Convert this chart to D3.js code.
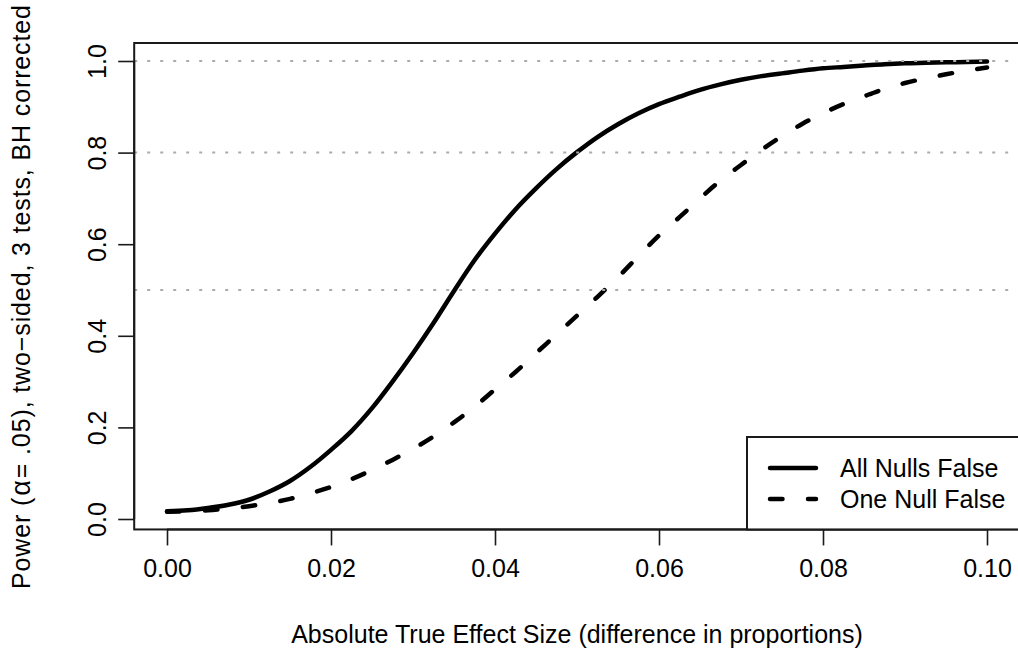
<!DOCTYPE html>
<html>
<head>
<meta charset="utf-8">
<script src="https://cdn.jsdelivr.net/npm/d3@7"></script>
<style>
  html, body { margin: 0; padding: 0; background: #fff; }
  svg { display: block; font-family: "Liberation Sans", Arial, Helvetica, sans-serif; }
</style>
</head>
<body>
<svg id="chart" width="1018" height="649"></svg>
<script>
// Effect sizes (difference in proportions)
const effectSize = [
  0.0000, 0.0025, 0.0050, 0.0075, 0.0100, 0.0125, 0.0150, 0.0175, 0.0200, 0.0225,
  0.0250, 0.0275, 0.0300, 0.0325, 0.0350, 0.0375, 0.0400, 0.0425, 0.0450, 0.0475,
  0.0500, 0.0525, 0.0550, 0.0575, 0.0600, 0.0625, 0.0650, 0.0675, 0.0700, 0.0725,
  0.0750, 0.0775, 0.0800, 0.0825, 0.0850, 0.0875, 0.0900, 0.0925, 0.0950, 0.0975,
  0.1000
];

// Power when all three nulls are false
const powerAllFalse = [
  0.017, 0.019, 0.024, 0.031, 0.042, 0.060, 0.083, 0.114, 0.151, 0.192,
  0.242, 0.300, 0.362, 0.428, 0.498, 0.565, 0.623, 0.676, 0.722, 0.764,
  0.801, 0.834, 0.862, 0.886, 0.906, 0.922, 0.937, 0.949, 0.959, 0.967,
  0.973, 0.979, 0.984, 0.987, 0.990, 0.993, 0.995, 0.996, 0.997, 0.998,
  0.999
];

// Power when only one null is false
const powerOneFalse = [
  0.016, 0.017, 0.019, 0.023, 0.028, 0.035, 0.044, 0.056, 0.070, 0.087,
  0.107, 0.129, 0.153, 0.180, 0.211, 0.245, 0.283, 0.321, 0.362, 0.403,
  0.444, 0.485, 0.528, 0.574, 0.619, 0.659, 0.700, 0.739, 0.773, 0.806,
  0.836, 0.863, 0.886, 0.906, 0.923, 0.939, 0.952, 0.962, 0.971, 0.979,
  0.986
];

const xTicks = [0, 0.02, 0.04, 0.06, 0.08, 0.10];
const yTicks = [0, 0.2, 0.4, 0.6, 0.8, 1.0];
const refLevels = [0.5, 0.8, 1.0];
const legendLabels = ["All Nulls False", "One Null False"];

const svg = d3.select("#chart");
const fontSize = 25;

const x = d3.scaleLinear().domain([0, 0.1]).range([167, 987]);
const y = d3.scaleLinear().domain([0, 1]).range([519, 61]);

// plot region (data range padded by 4%)
const box = {
  left: x(-0.004), right: x(0.104),
  top: y(1.0 + 0.0393), bottom: y(0.0165 - 0.0393)
};

const dashStyle = "12.5 25.5";

// curves
const line = d3.line()
  .x((d, i) => x(effectSize[i]))
  .y(d => y(d))
  .curve(d3.curveMonotoneX);

svg.append("path")
  .datum(powerAllFalse)
  .attr("d", line)
  .attr("fill", "none")
  .attr("stroke", "#000")
  .attr("stroke-width", 4.5)
  .attr("stroke-linejoin", "round")
  .attr("stroke-linecap", "round");

svg.append("path")
  .datum(powerOneFalse)
  .attr("d", line)
  .attr("fill", "none")
  .attr("stroke", "#000")
  .attr("stroke-width", 4.5)
  .attr("stroke-linejoin", "round")
  .attr("stroke-linecap", "round")
  .attr("stroke-dasharray", dashStyle);

// dotted reference lines, drawn over the curves
svg.append("g")
  .selectAll("line")
  .data(refLevels)
  .join("line")
  .attr("x1", box.left)
  .attr("x2", box.right)
  .attr("y1", d => y(d))
  .attr("y2", d => y(d))
  .attr("stroke", "#ababab")
  .attr("stroke-width", 2)
  .attr("stroke-dasharray", "3 10");

// plot frame
svg.append("rect")
  .attr("x", box.left)
  .attr("y", box.top)
  .attr("width", box.right - box.left)
  .attr("height", box.bottom - box.top)
  .attr("fill", "none")
  .attr("stroke", "#1a1a1a")
  .attr("stroke-width", 2);

// x axis
const xAxis = d3.axisBottom(x)
  .tickValues(xTicks)
  .tickFormat(d3.format(".2f"))
  .tickSize(16)
  .tickPadding(14);

const gx = svg.append("g")
  .attr("transform", `translate(0,${box.bottom})`)
  .call(xAxis);
gx.select(".domain")
  .attr("d", `M${x(0)},0H${x(0.1)}`)
  .attr("stroke", "#1a1a1a")
  .attr("stroke-width", 2);
gx.selectAll(".tick line").attr("stroke", "#1a1a1a").attr("stroke-width", 1.6);
gx.selectAll(".tick text")
  .attr("font-size", fontSize)
  .attr("font-family", null)
  .attr("fill", "#000");

// y axis
const yAxis = d3.axisLeft(y)
  .tickValues(yTicks)
  .tickFormat(d3.format(".1f"))
  .tickSize(16);

const gy = svg.append("g")
  .attr("transform", `translate(${box.left},0)`)
  .call(yAxis);
gy.select(".domain")
  .attr("d", `M0,${y(0)}V${y(1)}`)
  .attr("stroke", "#1a1a1a")
  .attr("stroke-width", 2);
gy.selectAll(".tick line").attr("stroke", "#1a1a1a").attr("stroke-width", 1.6);
gy.selectAll(".tick text")
  .attr("font-size", fontSize)
  .attr("font-family", null)
  .attr("fill", "#000")
  .attr("x", null)
  .attr("dy", null)
  .attr("text-anchor", "middle")
  .attr("dominant-baseline", "central")
  .attr("transform", `translate(${97 - box.left},0) rotate(-90)`);

// axis titles
svg.append("text")
  .attr("x", (box.left + box.right) / 2)
  .attr("y", 643)
  .attr("text-anchor", "middle")
  .attr("font-size", fontSize)
  .text("Absolute True Effect Size (difference in proportions)");

const yTitle = svg.append("text")
  .attr("transform", `translate(21,297) rotate(-90)`)
  .attr("text-anchor", "middle")
  .attr("dominant-baseline", "central")
  .attr("font-size", fontSize);
yTitle.append("tspan").text("Power (");
yTitle.append("tspan").attr("font-size", fontSize * 1.08).attr("dx", 1).text("\u03B1");
yTitle.append("tspan").attr("dx", 1).text("= .05), two\u2212sided, 3 tests, BH corrected");
yTitle.attr("textLength", 584).attr("lengthAdjust", "spacing");

// legend (bottom right)
const legend = svg.append("g");
legend.append("rect")
  .attr("x", 747)
  .attr("y", 437)
  .attr("width", box.right - 747)
  .attr("height", box.bottom - 437)
  .attr("fill", "#fff")
  .attr("stroke", "#1a1a1a")
  .attr("stroke-width", 2);

const legendRows = [
  { label: legendLabels[0], dash: null, yPos: 468 },
  { label: legendLabels[1], dash: dashStyle, yPos: 499 }
];

legendRows.forEach(r => {
  legend.append("line")
    .attr("x1", 770).attr("x2", 816)
    .attr("y1", r.yPos).attr("y2", r.yPos)
    .attr("stroke", "#000")
    .attr("stroke-width", 4.5)
    .attr("stroke-linecap", "round")
    .attr("stroke-dasharray", r.dash);
  legend.append("text")
    .attr("x", 840)
    .attr("y", r.yPos)
    .attr("dominant-baseline", "central")
    .attr("font-size", fontSize)
    .text(r.label);
});
</script>
</body>
</html>
